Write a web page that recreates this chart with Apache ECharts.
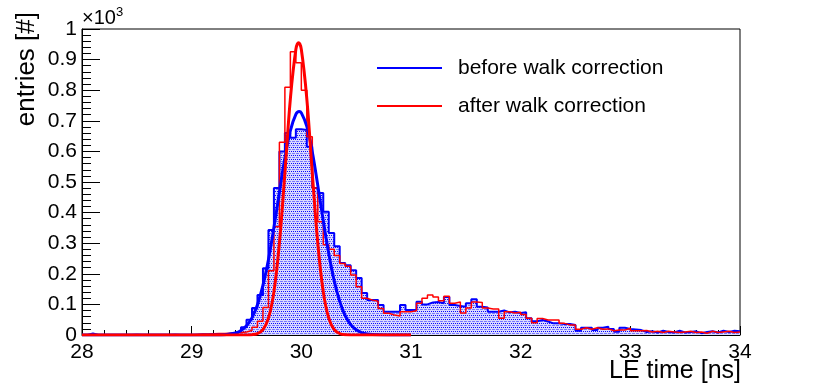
<!DOCTYPE html>
<html>
<head>
<meta charset="utf-8">
<script src="https://cdn.jsdelivr.net/npm/echarts@6/dist/echarts.min.js"></script>
<style>
html, body { margin: 0; padding: 0; background: #ffffff; }
#chart { width: 822px; height: 384px; }
</style>
</head>
<body>
<div id="chart"></div>
<script>
// histogram binning: 120 bins of 0.05 ns from 28 to 34 ns
const binStart = 28;
const binWidth = 0.05;

// entries per bin, before walk correction (blue, filled)
const beforeCounts = [
  0, 5, 0, 0, 0, 0, 0, 0, 0, 1,
  0, 0, 0, 0, 0, 0, 1, 0, 0, 0,
  0, 1, 0, 1, 2, 2, 4, 6, 12, 25,
  50, 88, 131, 218, 343, 480, 600, 660, 645, 672,
  670, 615, 480, 464, 403, 333, 290, 235, 228, 212,
  186, 137, 114, 114, 98, 76, 76, 76, 98, 82,
  82, 109, 100, 106, 108, 104, 124, 98, 95, 92,
  104, 117, 92, 90, 76, 76, 80, 74, 76, 72,
  74, 55, 45, 49, 44, 38, 38, 36, 36, 33,
  14, 24, 24, 16, 24, 27, 20, 11, 24, 20,
  18, 16, 10, 12, 8, 14, 10, 8, 14, 8,
  10, 12, 6, 10, 12, 8, 14, 10, 14, 12
];

// entries per bin, after walk correction (red outline)
const afterCounts = [
  0, 0, 0, 0, 0, 0, 0, 0, 0, 0,
  0, 0, 0, 0, 0, 0, 0, 0, 0, 0,
  2, 3, 3, 4, 5, 5, 6, 7, 8, 10,
  15, 25, 45, 90, 210, 354, 630, 810, 926, 890,
  800, 648, 480, 370, 295, 280, 260, 234, 225, 196,
  158, 120, 114, 110, 87, 71, 65, 62, 76, 76,
  79, 104, 120, 131, 124, 112, 127, 104, 108, 72,
  88, 108, 106, 88, 85, 85, 55, 76, 72, 74,
  67, 55, 40, 54, 49, 49, 49, 38, 33, 33,
  19, 24, 19, 24, 19, 20, 14, 16, 16, 22,
  14, 14, 15, 10, 12, 8, 12, 10, 8, 10,
  12, 8, 10, 6, 12, 8, 10, 12, 8, 10
];

// fitted curves
const fitBeforeX = [28, 29, 29.2, 29.3, 29.4, 29.45, 29.5, 29.55, 29.6, 29.65, 29.7, 29.75, 29.8, 29.85, 29.9, 29.95, 29.98,
  30, 30.05, 30.1, 30.15, 30.2, 30.25, 30.3, 30.35, 30.4, 30.45, 30.5, 30.55, 30.6, 30.7, 30.8, 31];
const fitBeforeY = [0, 0, 0.2, 1.2, 6.9, 15, 30, 56, 99, 162, 246, 351, 466, 578, 668, 721, 730,
  726, 682, 598, 489, 373, 266, 177, 110, 63, 34, 17, 8, 3.6, 0.6, 0.1, 0];

const fitAfterX = [28, 29, 29.4, 29.5, 29.55, 29.6, 29.65, 29.7, 29.75, 29.8, 29.85, 29.9, 29.95, 29.975,
  30, 30.05, 30.1, 30.15, 30.2, 30.25, 30.3, 30.35, 30.4, 30.5, 31];
const fitAfterY = [0, 0, 0, 0.2, 1, 4.7, 17.6, 55, 141, 300, 529, 772, 933, 955,
  933, 772, 529, 300, 141, 55, 17.6, 4.7, 1, 0.1, 0];

const font = "'Liberation Sans', Arial, Helvetica, sans-serif";

function toSteps(counts) {
  const pts = counts.map((v, i) => [binStart + i * binWidth, v]);
  pts.push([binStart + counts.length * binWidth, counts[counts.length - 1]]);
  return pts;
}

// dotted blue hatch like the ROOT fill style
function dotPattern() {
  const c = document.createElement("canvas");
  c.width = 4;
  c.height = 4;
  const ctx = c.getContext("2d");
  ctx.fillStyle = "#dadaff";
  ctx.fillRect(0, 0, 4, 4);
  ctx.fillStyle = "#7878ff";
  ctx.fillRect(0, 1, 3, 1);
  ctx.fillStyle = "#0a0aff";
  ctx.fillRect(1, 3, 1, 1);
  ctx.fillRect(3, 3, 1, 1);
  return c;
}

const myChart = echarts.init(document.getElementById("chart"), null, { renderer: "canvas" });

myChart.setOption({
  animation: false,
  backgroundColor: "#ffffff",
  textStyle: { fontFamily: font },
  grid: {
    left: 82,
    right: 82,
    top: 29,
    bottom: 49,
    show: true,
    borderColor: "#000000",
    borderWidth: 1,
  },
  legend: {
    data: [
      { name: "before walk correction", icon: "rect", itemStyle: { color: "#0000ff", borderWidth: 0 } },
      { name: "after walk correction", icon: "rect", itemStyle: { color: "#ff0000", borderWidth: 0 } },
    ],
    orient: "vertical",
    left: 377,
    top: 56,
    padding: 0,
    itemWidth: 65,
    itemHeight: 2,
    itemGap: 14,
    selectedMode: false,
    textStyle: { fontFamily: font, fontSize: 21, color: "#000000", lineHeight: 24, padding: [0, 0, 0, 11] },
  },
  xAxis: {
    type: "value",
    min: 28,
    max: 34,
    interval: 1,
    axisLine: { lineStyle: { color: "#000000", width: 1 } },
    axisTick: { inside: true, length: 9, lineStyle: { color: "#000000" } },
    minorTick: { show: true, splitNumber: 5, length: 5, lineStyle: { color: "#000000" } },
    splitLine: { show: false },
    axisLabel: { color: "#000000", fontSize: 21, fontFamily: font, margin: 7 },
  },
  yAxis: {
    type: "value",
    min: 0,
    max: 1000,
    interval: 100,
    axisLine: { show: true, lineStyle: { color: "#000000", width: 1 } },
    axisTick: { show: true, inside: true, length: 18, lineStyle: { color: "#000000" } },
    minorTick: { show: true, splitNumber: 5, length: 9, lineStyle: { color: "#000000" } },
    splitLine: { show: false },
    axisLabel: {
      color: "#000000",
      fontSize: 21,
      fontFamily: font,
      margin: 5,
      formatter: (v) => String(v / 1000),
    },
  },
  graphic: [
    {
      type: "text",
      x: 82,
      y: 18,
      style: { text: "\u00d710", fontSize: 20, fontFamily: font, fill: "#000000", align: "left", verticalAlign: "middle" },
    },
    {
      type: "text",
      x: 116,
      y: 12,
      style: { text: "3", fontSize: 13, fontFamily: font, fill: "#000000", align: "left", verticalAlign: "middle" },
    },
    {
      type: "text",
      x: 27,
      y: 12,
      rotation: Math.PI / 2,
      style: { text: "entries [#]", fontSize: 26, fontFamily: font, fill: "#000000", align: "right", verticalAlign: "middle" },
    },
    {
      type: "text",
      x: 741,
      y: 371,
      style: { text: "LE time [ns]", fontSize: 25, fontFamily: font, fill: "#000000", align: "right", verticalAlign: "middle" },
    },
  ],
  series: [
    {
      name: "before walk correction",
      type: "line",
      step: "end",
      data: toSteps(beforeCounts),
      symbol: "none",
      lineStyle: { color: "#0000ff", width: 2 },
      itemStyle: { color: "#0000ff" },
      areaStyle: { color: { image: dotPattern(), repetition: "repeat" }, opacity: 1 },
      z: 2,
    },
    {
      name: "after walk correction",
      type: "line",
      step: "end",
      data: toSteps(afterCounts),
      symbol: "none",
      lineStyle: { color: "#ff0000", width: 1.5 },
      itemStyle: { color: "#ff0000" },
      z: 3,
    },
    {
      name: "fit before",
      type: "line",
      smooth: 0.4,
      data: fitBeforeX.map((x, i) => [x, fitBeforeY[i]]),
      symbol: "none",
      lineStyle: { color: "#0000ff", width: 3 },
      itemStyle: { color: "#0000ff" },
      z: 4,
    },
    {
      name: "fit after",
      type: "line",
      smooth: 0.4,
      data: fitAfterX.map((x, i) => [x, fitAfterY[i]]),
      symbol: "none",
      lineStyle: { color: "#ff0000", width: 3 },
      itemStyle: { color: "#ff0000" },
      z: 5,
    },
  ],
});
</script>
</body>
</html>
